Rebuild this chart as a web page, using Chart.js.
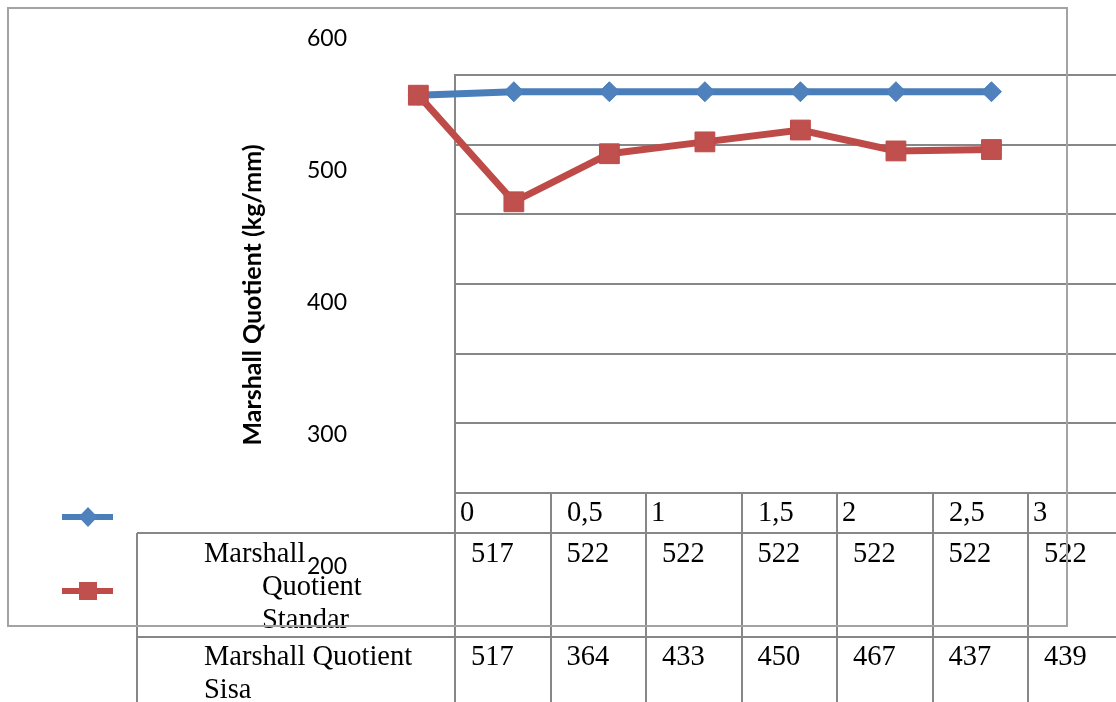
<!DOCTYPE html>
<html>
<head>
<meta charset="utf-8">
<script src="https://cdn.jsdelivr.net/npm/chart.js@4.4.1/dist/chart.umd.min.js"></script>
<style>
  html, body { margin: 0; padding: 0; background: #ffffff; overflow: hidden; }
  #wrap { position: relative; width: 1116px; height: 702px; overflow: hidden; }
  canvas { position: absolute; left: 0; top: 0; }
</style>
</head>
<body>
<div id="wrap"><canvas id="c" width="1140" height="702"></canvas></div>
<script>
// Kadar (category) labels shown in the data table header
const xLabels = ['0', '0,5', '1', '1,5', '2', '2,5', '3'];
// Marshall Quotient values (kg/mm)
const standar = [517, 522, 522, 522, 522, 522, 522];
const sisa = [517, 364, 433, 450, 467, 437, 439];
const seriesNames = ['Marshall Quotient Standar', 'Marshall Quotient Sisa'];
// value-axis labels and title
const yTickLabels = ['600', '500', '400', '300', '200'];
const yTitle = 'Marshall Quotient (kg/mm)';

// styling
const BLUE_LINE = '#4A7EBB', BLUE_FILL = '#4F81BD';
const RED_LINE = '#BE4B48', RED_FILL = '#C0504D';
const GRID = '#878787', FRAME = '#A3A3A3';
const SERIF = '"Liberation Serif", "Times New Roman", serif';
const SANS = 'Lato, "Open Sans", sans-serif';

const xVal = s => parseFloat(s.replace(',', '.'));
const pts = arr => arr.map((v, i) => ({ x: xVal(xLabels[i]), y: v }));

// axis ranges
const X_MIN = -0.2007, X_MAX = 3.699;
const Y_MIN = -54, Y_MAX = 546, Y_STEP = 100;
// left edge of the gridded plot panel / data table
const PANEL_LEFT = 455;

function line(ctx, x1, y1, x2, y2) {
  ctx.beginPath(); ctx.moveTo(x1, y1); ctx.lineTo(x2, y2); ctx.stroke();
}

const sheet = {
  id: 'sheet',
  beforeDatasetsDraw(chart) {
    const { ctx, scales: { x, y } } = chart;
    const W = chart.width, H = chart.height;
    const col = x.getPixelForValue(0.5) - x.getPixelForValue(0);
    const top = Math.round(y.getPixelForValue(Y_MAX));
    const bottom = Math.round(y.getPixelForValue(Y_MIN));
    ctx.save();
    ctx.strokeStyle = GRID;
    ctx.lineWidth = 2;
    // horizontal gridlines of the value axis
    for (let v = Y_MIN; v <= Y_MAX + 0.01; v += Y_STEP) {
      const py = Math.round(y.getPixelForValue(v));
      line(ctx, PANEL_LEFT - 1, py, W, py);
    }
    // panel left edge running down through the table
    line(ctx, PANEL_LEFT, top, PANEL_LEFT, H);
    // column separators of the data table
    for (let k = 1; k <= xLabels.length; k++) {
      const cx = Math.round(PANEL_LEFT + k * col);
      line(ctx, cx, bottom, cx, H);
    }
    // series rows
    line(ctx, 137, 533, W, 533);
    line(ctx, 137, 637, W, 637);
    line(ctx, 137, 533, 137, H);
    ctx.restore();
  },
  afterDraw(chart) {
    const { ctx, scales: { x, y } } = chart;
    const col = x.getPixelForValue(0.5) - x.getPixelForValue(0);
    const bottom = Math.round(y.getPixelForValue(Y_MIN));
    ctx.save();
    ctx.fillStyle = '#000';
    ctx.textBaseline = 'alphabetic';
    ctx.textAlign = 'left';

    // table header
    ctx.font = '28.5px ' + SERIF;
    xLabels.forEach((lbl, k) => {
      const indent = lbl.indexOf(',') >= 0 ? 16.5 : 5;
      ctx.fillText(lbl, PANEL_LEFT + k * col + indent, bottom + 27.5);
    });
    // table values
    [standar, sisa].forEach((arr, r) => {
      const base = r === 0 ? 562 : 665;
      arr.forEach((v, k) => ctx.fillText(String(v), PANEL_LEFT + k * col + 16, base));
    });
    // row names
    const w0 = seriesNames[0].split(' ');
    ctx.fillText(w0[0], 204, 562);
    ctx.fillText(w0[1], 262, 595);
    ctx.fillText(w0.slice(2).join(' '), 262, 627.5);
    const w1 = seriesNames[1].split(' ');
    ctx.fillText(w1.slice(0, 2).join(' '), 204, 665);
    ctx.fillText(w1.slice(2).join(' '), 204, 697.5);

    // value-axis labels
    ctx.font = '23px ' + SANS;
    ctx.textAlign = 'right';
    ctx.textBaseline = 'middle';
    yTickLabels.forEach((t, i) => ctx.fillText(t, 347, 39 + i * 132));

    // value-axis title
    ctx.save();
    ctx.translate(253, 295);
    ctx.rotate(-Math.PI / 2);
    ctx.textAlign = 'center';
    ctx.font = 'bold 25px ' + SANS;
    ctx.fillText(yTitle, 0, 0);
    ctx.restore();

    // legend keys
    ctx.lineWidth = 6;
    ctx.strokeStyle = BLUE_LINE;
    line(ctx, 62, 517, 113, 517);
    ctx.fillStyle = BLUE_FILL;
    ctx.beginPath();
    ctx.moveTo(88, 507); ctx.lineTo(97.5, 517); ctx.lineTo(88, 527); ctx.lineTo(78.5, 517);
    ctx.closePath(); ctx.fill();
    ctx.strokeStyle = RED_LINE;
    line(ctx, 62, 591, 113, 591);
    ctx.fillStyle = RED_FILL;
    ctx.fillRect(79, 582, 18, 18);

    // outer chart frame
    ctx.strokeStyle = FRAME;
    ctx.lineWidth = 2;
    ctx.strokeRect(8, 8, 1059, 618);
    ctx.restore();
  }
};

new Chart(document.getElementById('c'), {
  type: 'line',
  data: {
    datasets: [
      {
        label: seriesNames[1],
        data: pts(sisa),
        order: 0,
        borderColor: RED_LINE,
        borderWidth: 7,
        pointStyle: 'rect',
        pointRadius: 14,
        pointBackgroundColor: RED_FILL,
        pointBorderColor: RED_LINE,
        pointBorderWidth: 1,
        tension: 0,
        clip: false
      },
      {
        label: seriesNames[0],
        data: pts(standar),
        order: 1,
        borderColor: BLUE_LINE,
        borderWidth: 7,
        pointStyle: 'rectRot',
        pointRadius: 10,
        pointBackgroundColor: BLUE_FILL,
        pointBorderColor: BLUE_LINE,
        pointBorderWidth: 1,
        tension: 0,
        clip: false
      }
    ]
  },
  options: {
    responsive: false,
    animation: false,
    events: [],
    layout: { padding: { left: 380, top: 75, right: 0, bottom: 209 } },
    plugins: { legend: { display: false }, tooltip: { enabled: false } },
    scales: {
      x: { type: 'linear', display: false, min: X_MIN, max: X_MAX },
      y: { type: 'linear', display: false, min: Y_MIN, max: Y_MAX }
    }
  },
  plugins: [sheet]
});
</script>
</body>
</html>
